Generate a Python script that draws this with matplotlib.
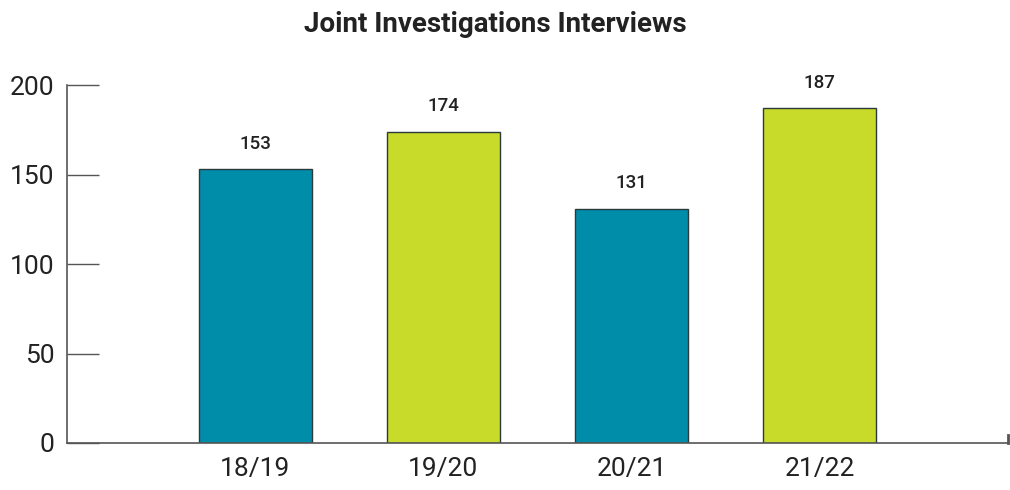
import matplotlib
matplotlib.use("Agg")
import matplotlib.pyplot as plt
from matplotlib import font_manager

categories = ["18/19", "19/20", "20/21", "21/22"]
values = [153, 174, 131, 187]
colors = ["#008DAA", "#C9DB2A", "#008DAA", "#C9DB2A"]
yticks = [0, 50, 100, 150, 200]

avail = {f.name for f in font_manager.fontManager.ttflist}
fam = [f for f in ["Liberation Sans Narrow", "Roboto", "DejaVu Sans"] if f in avail]
plt.rcParams['font.family'] = fam

fig = plt.figure(figsize=(10.1, 4.9), dpi=100)
ax = fig.add_axes([67/1010, 1-443/490, (1008-67)/1010, (443-85)/490])
x = list(range(1, len(categories)+1))
bars = ax.bar(x, values, width=0.6, color=colors, edgecolor="#2a3a3a", linewidth=1)
for xi, v in zip(x, values):
    ax.text(xi, v + 9, str(v), ha="center", va="bottom", fontsize=13.5, fontweight="medium", color="#222222")
ax.set_xlim(0, 5)
ax.set_ylim(0, 200)
ax.set_yticks(yticks)
ax.set_xticks(x)
ax.set_xticklabels(categories, fontsize=19, color="#222222")
ax.tick_params(axis="x", length=0, pad=10)
ax.tick_params(axis="y", direction="in", length=23, width=1, color="#555555", labelsize=19, labelcolor="#222222", pad=9)
for s in ["top", "right"]:
    ax.spines[s].set_visible(False)
for s in ["left", "bottom"]:
    ax.spines[s].set_color("#555555")
    ax.spines[s].set_linewidth(1.2)
ax.plot([5, 5], [0, 4.5], color="#555555", lw=2, clip_on=False)
fig.suptitle("Joint Investigations Interviews", x=495/1010, y=1-25/490, va="center", fontsize=20, fontweight="bold", color="#222222")
fig.savefig("out.png", dpi=100)
